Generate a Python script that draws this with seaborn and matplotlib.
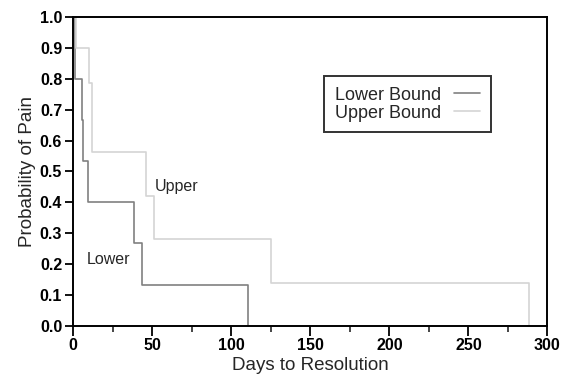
import pandas as pd
import seaborn as sns
import matplotlib.pyplot as plt
from matplotlib.lines import Line2D
from matplotlib.ticker import MultipleLocator

# step curve data (days, probability)
lower_days = [0, 1, 5.3, 6.3, 9.5, 38.4, 43.3, 110.4]
lower_prob = [1.0, 0.8, 0.667, 0.533, 0.4, 0.267, 0.133, 0.0]

upper_days = [0, 2, 10, 12, 46, 51, 125, 288.6]
upper_prob = [1.0, 0.9, 0.787, 0.5625, 0.42, 0.28, 0.14, 0.0]

series_names = ["Lower Bound", "Upper Bound"]
series_colors = {"Lower Bound": "#808080", "Upper Bound": "#d4d4d4"}

sns.set_style("ticks")
plt.rcParams['font.family'] = ['Liberation Sans', 'DejaVu Sans']

# long-form table for seaborn
df = pd.concat([
    pd.DataFrame({"days": lower_days, "prob": lower_prob, "bound": series_names[0]}),
    pd.DataFrame({"days": upper_days, "prob": upper_prob, "bound": series_names[1]}),
])

fig = plt.figure(figsize=(5.62, 3.79), dpi=100)
ax = fig.add_axes([0.1304, 0.1406, 0.8437, 0.8138])

for name in series_names:
    sub = df[df["bound"] == name]
    sns.lineplot(data=sub, x="days", y="prob", ax=ax, color=series_colors[name],
                 drawstyle="steps-post", linewidth=1.2, estimator=None, sort=False,
                 legend=False)

ax.set_xlim(0, 300)
ax.set_ylim(0, 1.0)
ax.xaxis.set_major_locator(MultipleLocator(50))
ax.xaxis.set_minor_locator(MultipleLocator(25))
ax.yaxis.set_major_locator(MultipleLocator(0.1))
ax.yaxis.set_major_formatter(plt.FormatStrFormatter('%.1f'))

for side in ["top", "right", "bottom", "left"]:
    ax.spines[side].set_visible(True)
    ax.spines[side].set_linewidth(1.4)
    ax.spines[side].set_color("black")

ax.tick_params(axis="both", which="major", direction="out", width=1.3, labelsize=11.5,
               colors="black", pad=2)
ax.tick_params(axis="x", which="major", length=7)
ax.tick_params(axis="x", which="minor", direction="out", length=4, width=1.2)
ax.tick_params(axis="y", which="major", length=6)
for lbl in ax.get_xticklabels() + ax.get_yticklabels():
    lbl.set_fontweight("bold")

ax.set_xlabel("Days to Resolution", fontsize=13.5, labelpad=3)
ax.set_ylabel("Probability of Pain", fontsize=13.5, labelpad=3)

ax.text(51.5, 0.45, "Upper", fontsize=11.5, va="center", ha="left")
ax.text(8.5, 0.216, "Lower", fontsize=11.5, va="center", ha="left")

handles = [Line2D([], [], color=series_colors[n], linewidth=1.2) for n in series_names]
leg = ax.legend(handles, series_names, loc="upper left", bbox_to_anchor=(0.529, 0.81),
                borderaxespad=0, markerfirst=False, fontsize=13, frameon=True,
                fancybox=False, handlelength=1.45, handletextpad=0.7,
                labelspacing=0.05, borderpad=0.6)
leg.get_frame().set_edgecolor("black")
leg.get_frame().set_linewidth(1.4)

fig.savefig("out.png", dpi=100)
